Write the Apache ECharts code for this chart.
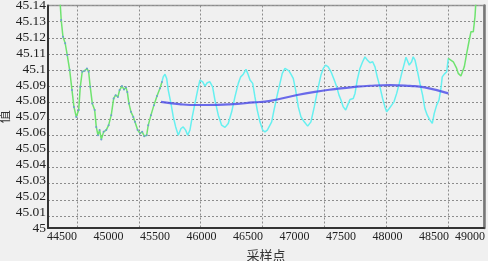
<!DOCTYPE html>
<html>
<head>
<meta charset="utf-8">
<script src="https://cdn.jsdelivr.net/npm/echarts@6/dist/echarts.min.js"></script>
<style>
html, body { margin: 0; padding: 0; background: #f0f0f0; }
#grafico { width: 488px; height: 261px; }
</style>
</head>
<body>
<div id="grafico"></div>
<script>
// raw signal, first green part
const greenStartX = [44478,44492,44511,44535,44557,44583,44608,44629,44654,44680,
  44697,44718,44744,44769,44787,44804,44826,44852,44869,44887,
  44905,44923,44948,44976,45002,45030,45056,45077,45102,45120,
  45145,45167,45188,45203,45220,45242,45267,45285,45314,45339,
  45363,45385,45411,45428,45457,45489,45522,45554,45575]
const greenStartY = [45.1444,45.1309,45.1203,45.1162,45.1088,45.0994,45.0868,45.0762,45.0699,45.0742,
  45.0888,45.0983,45.0989,45.1004,45.0983,45.0888,45.0784,45.0742,45.0636,45.0584,
  45.0616,45.0557,45.0605,45.0616,45.0647,45.0710,45.0815,45.0836,45.0825,45.0868,
  45.0893,45.0872,45.0885,45.0855,45.0784,45.0731,45.0699,45.0668,45.0616,45.0595,
  45.0605,45.0578,45.0584,45.0647,45.0710,45.0773,45.0830,45.0880,45.0918]

// selected window (cyan)
const cyanX = [45575,45589,45608,45626,45643,45672,45697,45723,45751,45780,
  45804,45830,45852,45876,45901,45930,45959,45984,46013,46038,
  46062,46091,46120,46145,46181,46217,46253,46288,46325,46360,
  46396,46422,46450,46479,46497,46522,46551,46575,46600,46629,
  46658,46683,46708,46729,46755,46780,46819,46844,46869,46898,
  46916,46941,46962,46987,47013,47041,47070,47105,47142,47177,
  47213,47249,47285,47310,47335,47363,47393,47428,47454,47479,
  47500,47525,47551,47572,47597,47632,47651,47675,47704,47733,
  47758,47783,47812,47841,47866,47890,47919,47948,47973,47991,
  48019,48045,48070,48099,48127,48153,48177,48199,48213,48234,
  48260,48277,48296,48320,48349,48378,48403,48428,48457,48482,
  48503,48529,48554,48575,48589,48611,48637,48654]
const cyanY = [45.0918,45.0951,45.0968,45.0941,45.0868,45.0784,45.0699,45.0636,45.0584,45.0626,
  45.0636,45.0616,45.0584,45.0616,45.0699,45.0784,45.0868,45.0931,45.0920,45.0893,
  45.0914,45.0920,45.0888,45.0805,45.0710,45.0647,45.0633,45.0658,45.0731,45.0825,
  45.0910,45.0951,45.0968,45.0998,45.0973,45.0931,45.0910,45.0825,45.0742,45.0668,
  45.0616,45.0605,45.0616,45.0605,45.0668,45.0742,45.0847,45.0910,45.0973,45.1004,
  45.1014,45.0989,45.0968,45.0941,45.0868,45.0762,45.0699,45.0668,45.0641,45.0668,
  45.0762,45.0868,45.0962,45.1004,45.1025,45.1014,45.0983,45.0931,45.0888,45.0836,
  45.0805,45.0762,45.0742,45.0773,45.0809,45.0815,45.0847,45.0931,45.1004,45.1046,
  45.1077,45.1057,45.1040,45.1046,45.1014,45.0951,45.0888,45.0815,45.0762,45.0731,
  45.0752,45.0773,45.0794,45.0847,45.0910,45.0973,45.1025,45.1074,45.1082,45.1025,
  45.1046,45.1077,45.1057,45.0994,45.0910,45.0836,45.0750,45.0710,45.0679,45.0658,
  45.0721,45.0773,45.0805,45.0878,45.0951,45.0968,45.0983,45.1067]

// raw signal, last green part
const greenEndX = [48654,48672,48708,48726,48744,48761,48790,48804,48826,48852,48876,48898,48923,48941,48954]
const greenEndY = [45.1067,45.1057,45.1046,45.1046,45.1004,45.0973,45.0956,45.0962,45.1014,45.1099,45.1172,45.1235,45.1235,45.1329,45.1454]

// fitted trend (blue)
const fitX = [45565,45760,45880,46050,46300,46560,46740,47005,47220,47435,47650,47810,48030,48240,48400,48654]
const fitY = [45.0794,45.0780,45.0774,45.0774,45.0778,45.0790,45.0800,45.0834,45.0857,45.0874,45.0888,45.0895,45.0899,45.0894,45.0885,45.0847]

const xTicks = [44500,45000,45500,46000,46500,47000,47500,48000,48500]
const xLastTick = [49000]
const yTicks = [45,45.01,45.02,45.03,45.04,45.05,45.06,45.07,45.08,45.09,45.1,45.11,45.12,45.13,45.14]

const zip = (xs, ys) => xs.map((x, i) => [x, ys[i]])

const dotted = { color: '#8c8c8c', width: 1, type: [2, 2] }
const labelFont = { fontFamily: 'Liberation Serif', fontSize: 12, color: '#222' }

let myChart = echarts.init(document.getElementById('grafico'))

let option = {
  backgroundColor: '#f0f0f0',
  animation: false,
  grid: [
    { left: 48, top: 5.5, width: 436, height: 222.5, outerBoundsMode: 'none', show: true, borderColor: '#999', borderWidth: 1.5, backgroundColor: '#f0f0f0' },
    // vertical dotted lines
    { left: 77, top: 5.5, width: 371, height: 222.5, outerBoundsMode: 'none' },
    // horizontal dotted lines
    { left: 48, top: 5.5, width: 436, height: 210.6, outerBoundsMode: 'none' }
  ],
  xAxis: [
    {
      type: 'value',
      gridIndex: 0,
      min: 44350,
      max: 49038,
      name: '采样点',
      nameLocation: 'middle',
      nameGap: 21,
      nameMoveOverlap: false,
      nameTextStyle: { fontFamily: 'Noto Sans CJK SC', fontSize: 13, color: '#333' },
      axisLine: { show: true, onZero: false, lineStyle: { color: '#333', width: 2 } },
      axisTick: { show: false },
      splitLine: { show: false },
      axisLabel: Object.assign({ customValues: xTicks, formatter: v => String(v), margin: 3 }, labelFont)
    },
    {
      type: 'value', gridIndex: 1, min: 0, max: 6, interval: 1,
      axisLine: { show: false }, axisTick: { show: false }, axisLabel: { show: false },
      splitLine: { show: true, lineStyle: dotted }
    },
    {
      type: 'value', gridIndex: 2, min: 0, max: 1, show: false
    },
    {
      // last label is pulled inside the frame, as in the original
      type: 'value', gridIndex: 0, position: 'bottom', min: 44463, max: 49151,
      axisLine: { show: false }, axisTick: { show: false }, splitLine: { show: false },
      axisLabel: Object.assign({ customValues: xLastTick, formatter: v => String(v), margin: 3 }, labelFont)
    }
  ],
  yAxis: [
    {
      type: 'value',
      gridIndex: 0,
      min: 45,
      max: 45.14,
      name: '值',
      nameLocation: 'middle',
      nameGap: 38,
      nameRotate: 90,
      nameMoveOverlap: false,
      nameTextStyle: { fontFamily: 'Noto Sans CJK SC', fontSize: 13, color: '#333' },
      axisLine: { show: true, lineStyle: { color: '#333', width: 2 } },
      axisTick: { show: false },
      splitLine: { show: false },
      axisLabel: {
        customValues: yTicks,
        formatter: v => String(v),
        margin: 2,
        fontFamily: 'Liberation Serif',
        fontSize: 13.5,
        color: '#222'
      }
    },
    {
      type: 'value',
      gridIndex: 0,
      position: 'right',
      min: 45,
      max: 45.14,
      axisLine: { show: true, lineStyle: { color: '#777', width: 2.5 } },
      axisTick: { show: false },
      axisLabel: { show: false },
      splitLine: { show: false }
    },
    {
      type: 'value', gridIndex: 1, min: 0, max: 1, show: false
    },
    {
      type: 'value', gridIndex: 2, min: 0, max: 13, interval: 1, inverse: true,
      axisLine: { show: false }, axisTick: { show: false }, axisLabel: { show: false },
      splitLine: { show: true, lineStyle: dotted }
    }
  ],
  series: [
    {
      name: 'raw1',
      type: 'line',
      xAxisIndex: 0,
      yAxisIndex: 0,
      data: zip(greenStartX, greenStartY),
      showSymbol: true,
      showAllSymbol: true,
      symbol: 'circle',
      symbolSize: 2,
      itemStyle: { color: '#6d9fd0' },
      lineStyle: { color: '#6fe36f', width: 1.5 },
      z: 3
    },
    {
      name: 'window',
      type: 'line',
      xAxisIndex: 0,
      yAxisIndex: 0,
      data: zip(cyanX, cyanY),
      showSymbol: false,
      lineStyle: { color: '#66f0f0', width: 1.5 },
      z: 3
    },
    {
      name: 'raw2',
      type: 'line',
      xAxisIndex: 0,
      yAxisIndex: 0,
      data: zip(greenEndX, greenEndY),
      showSymbol: false,
      lineStyle: { color: '#6fe36f', width: 1.5 },
      z: 3
    },
    {
      name: 'fit',
      type: 'line',
      xAxisIndex: 0,
      yAxisIndex: 0,
      data: zip(fitX, fitY),
      smooth: true,
      showSymbol: false,
      lineStyle: { color: '#4848e8', width: 2.2, opacity: 0.8 },
      z: 4
    }
  ]
}

myChart.setOption(option)
</script>
</body>
</html>
